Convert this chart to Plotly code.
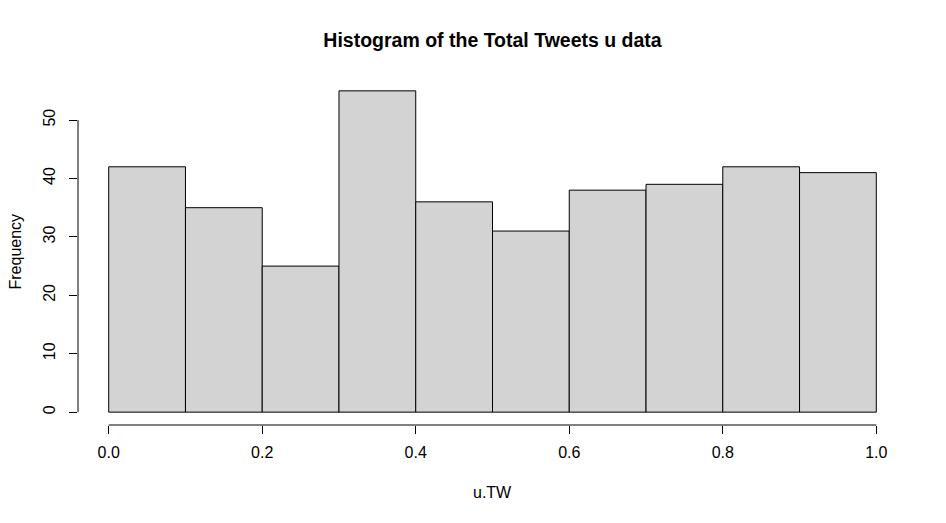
import plotly.graph_objects as go

bin_starts = [0.0, 0.1, 0.2, 0.3, 0.4, 0.5, 0.6, 0.7, 0.8, 0.9]
bin_width = 0.1
counts = [42, 35, 25, 55, 36, 31, 38, 39, 42, 41]
x_ticks = [0.0, 0.2, 0.4, 0.6, 0.8, 1.0]
x_ticktext = ["0.0", "0.2", "0.4", "0.6", "0.8", "1.0"]
y_ticks = [0, 10, 20, 30, 40, 50]

centers = [s + bin_width / 2 for s in bin_starts]

fig = go.Figure(go.Bar(
    x=centers, y=counts, width=[bin_width] * len(counts),
    marker=dict(color="#d3d3d3", line=dict(color="black", width=1)),
    hoverinfo="skip",
))

# the page body adds an 8px offset; compensate in the margins
off = 8
font = "Liberation Sans, Arial, sans-serif"
fig.update_layout(
    width=946, height=523,
    margin=dict(l=78 - off, r=39 + off, t=78 - off, b=98 + off, autoexpand=False),
    paper_bgcolor="white", plot_bgcolor="white",
    showlegend=False,
    font=dict(family=font, size=16, color="black"),
    title=dict(text="<b>Histogram of the Total Tweets u data</b>",
               x=0.5, xref="paper", xanchor="center",
               y=1 - (40.6 - off) / 523, yref="container", yanchor="middle",
               font=dict(size=19.5, family=font, color="black")),
    xaxis=dict(range=[-0.04, 1.04], showgrid=False, zeroline=False, showline=False,
               tickvals=x_ticks, ticktext=x_ticktext, ticks="outside", ticklen=8,
               tickcolor="black", tickwidth=1, ticklabelstandoff=5),
    yaxis=dict(range=[-2.2, 57.2], showgrid=False, zeroline=False, showline=False,
               tickvals=y_ticks, ticks="outside", ticklen=8, tickcolor="black",
               tickwidth=1, tickangle=-90, ticklabelstandoff=8),
    shapes=[
        dict(type="line", xref="x", yref="paper", x0=x_ticks[0], x1=x_ticks[-1],
             y0=0, y1=0, line=dict(color="black", width=1)),
        dict(type="line", xref="paper", yref="y", x0=0, x1=0,
             y0=y_ticks[0], y1=y_ticks[-1], line=dict(color="black", width=1)),
    ],
    annotations=[
        dict(text="u.TW", xref="paper", yref="paper", x=0.5, y=(425 - 493) / 347,
             xanchor="center", yanchor="middle", showarrow=False,
             font=dict(size=16, family=font)),
        dict(text="Frequency", xref="paper", yref="paper", x=(15 - 78) / 829, y=0.5,
             xanchor="center", yanchor="middle", textangle=-90, showarrow=False,
             font=dict(size=16, family=font)),
    ],
)

fig.write_html("out.html")
